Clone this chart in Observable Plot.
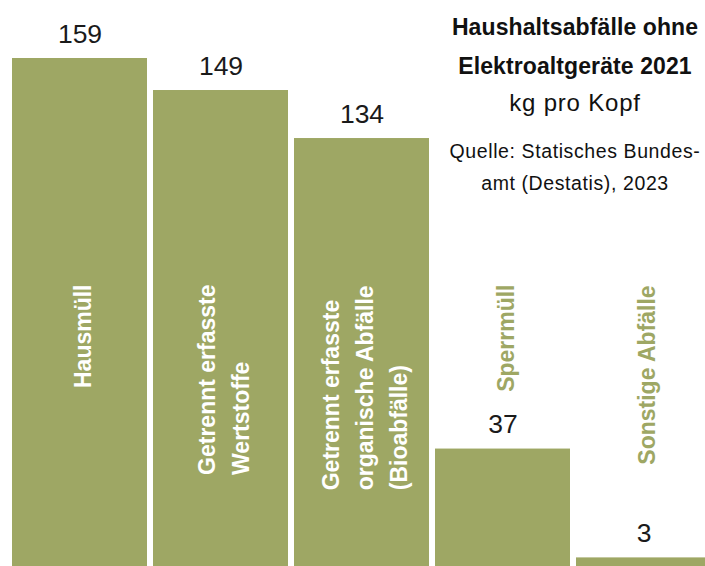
<!DOCTYPE html>
<html>
<head>
<meta charset="utf-8">
<script src="https://cdn.jsdelivr.net/npm/d3@7"></script>
<script src="https://cdn.jsdelivr.net/npm/@observablehq/plot@0.6"></script>
<style>
  html, body { margin: 0; padding: 0; background: #fff; }
  #wrap { position: relative; width: 705px; height: 566px; overflow: hidden; }
  #title { position: absolute; left: 440px; width: 270px; top: 8px; text-align: center; color: #111; font-family: "Liberation Sans", Arial, sans-serif; }
  #title .t { font-weight: bold; font-size: 23px; letter-spacing: 0.1px; line-height: 39px; }
  #title .s { font-size: 24px; letter-spacing: 0.8px; line-height: 33px; }
  #title .q { font-size: 19.5px; letter-spacing: 0.6px; line-height: 32px; margin-top: 16px; }
</style>
</head>
<body>
<div id="wrap">
  <div id="chart"></div>
  <div id="title">
    <div class="t">Haushaltsabfälle ohne<br>Elektroaltgeräte 2021</div>
    <div class="s">kg pro Kopf</div>
    <div class="q">Quelle: Statisches Bundes-<br>amt (Destatis), 2023</div>
  </div>
</div>
<script>
const categories = [
  "Hausmüll",
  "Getrennt erfasste\nWertstoffe",
  "Getrennt erfasste\norganische Abfälle\n(Bioabfälle)",
  "Sperrmüll",
  "Sonstige Abfälle"
];
const values = [159, 149, 134, 37, 3];

const barColor = "#9ea764";
const labelFont = '"Liberation Sans", Arial, sans-serif';
const labelSize = 23;
const data = categories.map((c, i) => ({cat: c, value: values[i]}));

// measure longest line so each label block's top edge sits at the same height
const ctx = document.createElement("canvas").getContext("2d");
ctx.font = `bold ${labelSize}px ${labelFont}`;
const longest = c => d3.max(c.split("\n"), l => ctx.measureText(l).width);
const labelTop = 284;

const labelMarks = data.map(d => Plot.text([d], {
  x: "cat",
  frameAnchor: "top",
  text: "cat",
  rotate: -90,
  textAnchor: "start",
  lineAnchor: "middle",
  lineHeight: 1.48,
  dy: labelTop + longest(d.cat),
  fill: d.value > 100 ? "white" : barColor,
  fontSize: labelSize,
  fontWeight: "bold",
  fontFamily: labelFont
}));

const chart = Plot.plot({
  width: 705,
  height: 566,
  margin: 0,
  x: {domain: categories, range: [11.7, 714.1], paddingInner: 0.04, paddingOuter: 0, align: 0, axis: null},
  y: {domain: [0, 159], range: [567, 58], axis: null},
  style: {background: "white", overflow: "visible"},
  marks: [
    Plot.barY(data, {x: "cat", y: "value", fill: barColor}),
    Plot.text(data, {
      x: "cat", y: "value", text: d => String(d.value),
      lineAnchor: "bottom", dy: -16,
      fontSize: 26.5, fill: "#1a1a1a",
      fontFamily: labelFont
    }),
    ...labelMarks
  ]
});
document.getElementById("chart").appendChild(chart);
</script>
</body>
</html>
